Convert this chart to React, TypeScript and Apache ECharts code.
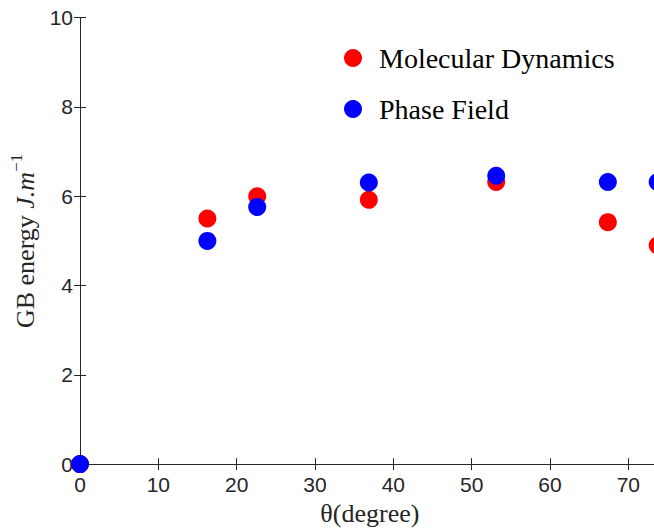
import React, { useEffect, useRef } from "react";
import * as echarts from "echarts";

// Misorientation angles (degrees) of the boundaries studied
const angles = [0, 16.26, 22.62, 36.87, 53.13, 67.38, 73.74];
// Grain-boundary energies, J/m
const molecularDynamics = [0, 5.5, 6.0, 5.92, 6.32, 5.42, 4.9];
const phaseField = [0, 5.0, 5.76, 6.31, 6.46, 6.32, 6.32];
const seriesNames = ["Molecular Dynamics", "Phase Field"];
const xTicks = [0, 10, 20, 30, 40, 50, 60, 70];
const yTicks = [0, 2, 4, 6, 8, 10];

const AXIS_COLOR = "#262626";
const SERIF = "'Liberation Serif', 'Times New Roman', serif";
const SANS = "'Liberation Sans', Arial, Helvetica, sans-serif";

// The axes box runs a few pixels past the right edge of the visible frame
const FRAME_WIDTH = 654;
const CHART_WIDTH = 662;
const CHART_HEIGHT = 531;

export default function App() {
  const ref = useRef<HTMLDivElement>(null);

  useEffect(() => {
    if (!ref.current) return;
    const chart = echarts.init(ref.current, undefined, { renderer: "svg" });

    const toPairs = (ys: number[]) => angles.map((a, i) => [a, ys[i]]);

    const boxAxisCommon = {
      axisLine: { show: true, lineStyle: { color: AXIS_COLOR, width: 1 } },
      axisTick: { show: true, inside: true, length: 6, lineStyle: { color: AXIS_COLOR } },
      splitLine: { show: false },
    };

    chart.setOption({
      animation: false,
      backgroundColor: "#ffffff",
      grid: { left: 78.5, top: 17.7, bottom: 61.7, right: 2.3, containLabel: false },
      legend: {
        orient: "vertical",
        left: 339,
        top: 38,
        itemWidth: 18,
        itemHeight: 18,
        itemGap: 21,
        icon: "circle",
        data: seriesNames,
        textStyle: {
          fontFamily: SERIF,
          fontSize: 28,
          lineHeight: 30,
          color: "#000000",
          padding: [0, 0, 0, 12],
        },
      },
      xAxis: [
        {
          type: "value",
          position: "bottom",
          min: 0,
          max: 74,
          interval: 10,
          ...boxAxisCommon,
          axisLabel: {
            show: true,
            margin: 10,
            fontFamily: SANS,
            fontSize: 21,
            color: AXIS_COLOR,
            showMaxLabel: false,
            formatter: (v: number) => (xTicks.includes(v) ? String(v) : ""),
          },
          name: "θ(degree)",
          nameLocation: "middle",
          nameGap: 33,
          nameTextStyle: { fontFamily: SERIF, fontSize: 26, color: AXIS_COLOR },
        },
        {
          type: "value",
          position: "top",
          min: 0,
          max: 74,
          interval: 10,
          ...boxAxisCommon,
          axisLabel: { show: false },
        },
      ],
      yAxis: [
        {
          type: "value",
          position: "left",
          min: 0,
          max: 10,
          interval: 2,
          ...boxAxisCommon,
          axisLabel: {
            show: true,
            margin: 7,
            fontFamily: SANS,
            fontSize: 21,
            color: AXIS_COLOR,
            formatter: (v: number) => (yTicks.includes(v) ? String(v) : ""),
          },
          name: "{a|GB energy }{b|J.m}{c|−1}",
          nameLocation: "middle",
          nameRotate: 90,
          nameGap: 42,
          nameTextStyle: {
            color: AXIS_COLOR,
            rich: {
              a: { fontFamily: SERIF, fontSize: 26, lineHeight: 30, verticalAlign: "bottom", color: AXIS_COLOR },
              b: { fontFamily: SERIF, fontSize: 26, fontStyle: "italic", lineHeight: 30, verticalAlign: "bottom", color: AXIS_COLOR },
              c: { fontFamily: SERIF, fontSize: 17, lineHeight: 17, verticalAlign: "top", color: AXIS_COLOR },
            },
          },
        },
        {
          type: "value",
          position: "right",
          min: 0,
          max: 10,
          interval: 2,
          ...boxAxisCommon,
          axisLabel: { show: false },
        },
      ],
      series: [
        {
          name: seriesNames[0],
          type: "scatter",
          data: toPairs(molecularDynamics),
          symbol: "circle",
          symbolSize: 18,
          clip: false,
          itemStyle: { color: "#ff0000", opacity: 1 },
          z: 2,
        },
        {
          name: seriesNames[1],
          type: "scatter",
          data: toPairs(phaseField),
          symbol: "circle",
          symbolSize: 18,
          clip: false,
          itemStyle: { color: "#0000ff", opacity: 1 },
          z: 3,
        },
      ],
    });

    return () => chart.dispose();
  }, []);

  return (
    <div
      style={{
        position: "fixed",
        left: 0,
        top: 0,
        width: FRAME_WIDTH,
        height: CHART_HEIGHT,
        overflow: "hidden",
        background: "#fff",
      }}
    >
      <div ref={ref} style={{ width: CHART_WIDTH, height: CHART_HEIGHT }} />
    </div>
  );
}
